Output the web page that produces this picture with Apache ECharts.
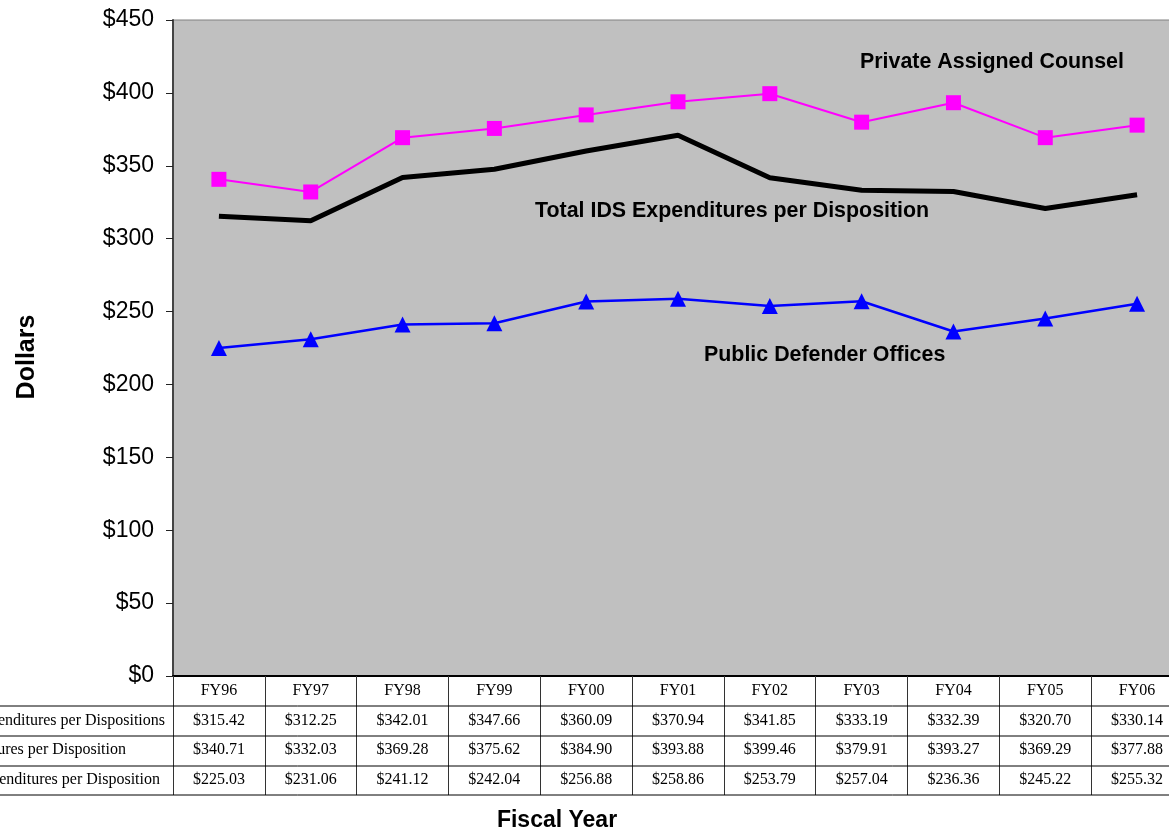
<!DOCTYPE html>
<html>
<head>
<meta charset="utf-8">
<script src="https://cdn.jsdelivr.net/npm/echarts@6/dist/echarts.min.js"></script>
<style>
  html, body { margin: 0; padding: 0; overflow: hidden; background: #fff; }
  #main { width: 1200px; height: 833px; }
</style>
</head>
<body>
<div id="main"></div>
<script>
// data
const years = ['FY96', 'FY97', 'FY98', 'FY99', 'FY00', 'FY01', 'FY02', 'FY03', 'FY04', 'FY05', 'FY06'];
const totalIDS = [315.42, 312.25, 342.01, 347.66, 360.09, 370.94, 341.85, 333.19, 332.39, 320.70, 330.14];
const privateCounsel = [340.71, 332.03, 369.28, 375.62, 384.90, 393.88, 399.46, 379.91, 393.27, 369.29, 377.88];
const publicDefender = [225.03, 231.06, 241.12, 242.04, 256.88, 258.86, 253.79, 257.04, 236.36, 245.22, 255.32];
const rowNames = [
    'Total IDS Expenditures per Dispositions',
    'Private Assigned Counsel Expenditures per Disposition',
    'Public Defender Office Expenditures per Disposition'
];

const money = v => '$' + v.toFixed(2);
const serif = '"Liberation Serif", "Times New Roman", serif';
const sans = '"Liberation Sans", Arial, sans-serif';

// one extra x axis per table row, labels come from the series arrays
function tableAxis(values, offset) {
    return {
        type: 'category',
        position: 'bottom',
        offset: offset,
        data: values.map(money),
        axisLine: { show: false },
        axisTick: { show: false },
        axisLabel: { interval: 0, margin: 7, color: '#000', fontFamily: serif, fontSize: 16 }
    };
}

const chart = echarts.init(document.getElementById('main'));

const rowLineY = [706, 736, 766, 795];
const rowLabelRight = [165, 126, 160];
const rowLabelY = [721, 750, 780];

const graphics = [];
rowLineY.forEach(y => {
    graphics.push({
        type: 'line', z: 5,
        shape: { x1: 0, y1: y, x2: 1190, y2: y },
        style: { stroke: '#000', lineWidth: 1 }
    });
});
rowNames.forEach((name, i) => {
    graphics.push({
        type: 'text', z: 5,
        x: rowLabelRight[i], y: rowLabelY[i],
        style: { text: name, fill: '#000', font: '16px ' + serif, align: 'right', verticalAlign: 'middle' }
    });
});
const notes = [
    { text: 'Private Assigned Counsel', x: 860, y: 62 },
    { text: 'Total IDS Expenditures per Disposition', x: 535, y: 211 },
    { text: 'Public Defender Offices', x: 704, y: 355 }
];
notes.forEach(n => {
    graphics.push({
        type: 'text', z: 10,
        x: n.x, y: n.y,
        style: { text: n.text, fill: '#000', font: 'bold 21.4px ' + sans, align: 'left', verticalAlign: 'middle' }
    });
});
graphics.push({
    type: 'text', z: 5, x: 27, y: 357, rotation: Math.PI / 2,
    style: { text: 'Dollars', fill: '#000', font: 'bold 25px ' + sans, align: 'center', verticalAlign: 'middle' }
});
graphics.push({
    type: 'text', z: 5, x: 557, y: 821,
    style: { text: 'Fiscal Year', fill: '#000', font: 'bold 23px ' + sans, align: 'center', verticalAlign: 'middle' }
});

const option = {
    animation: false,
    backgroundColor: '#fff',
    grid: {
        left: 173, top: 20, width: 1010, height: 656,
        show: true, backgroundColor: '#C0C0C0', borderColor: '#808080', borderWidth: 1
    },
    xAxis: [
        {
            type: 'category',
            position: 'bottom',
            data: years,
            boundaryGap: true,
            axisLine: { show: true, lineStyle: { color: '#000', width: 2 } },
            axisTick: { show: true, interval: 0, length: 119, lineStyle: { color: '#333', width: 1 } },
            axisLabel: { interval: 0, margin: 7, color: '#000', fontFamily: serif, fontSize: 16 },
            splitLine: { show: false }
        },
        tableAxis(totalIDS, 30),
        tableAxis(privateCounsel, 59),
        tableAxis(publicDefender, 89)
    ],
    yAxis: {
        type: 'value',
        min: 0, max: 450, interval: 50,
        axisLine: { show: true, lineStyle: { color: '#444', width: 2 } },
        axisTick: { show: true, length: 7, lineStyle: { color: '#222', width: 1 } },
        axisLabel: {
            margin: 19, color: '#000', fontFamily: sans, fontSize: 23,
            formatter: v => '$' + v
        },
        splitLine: { show: false }
    },
    series: [
        {
            name: 'Total IDS Expenditures per Disposition',
            type: 'line',
            data: totalIDS,
            showSymbol: false,
            symbol: 'none',
            lineStyle: { color: '#000', width: 5 },
            z: 3
        },
        {
            name: 'Private Assigned Counsel',
            type: 'line',
            data: privateCounsel,
            symbol: 'rect',
            symbolSize: 15,
            itemStyle: { color: '#FF00FF' },
            lineStyle: { color: '#FF00FF', width: 2 },
            z: 4
        },
        {
            name: 'Public Defender Offices',
            type: 'line',
            data: publicDefender,
            symbol: 'triangle',
            symbolSize: 16,
            itemStyle: { color: '#0000FF' },
            lineStyle: { color: '#0000FF', width: 2.5 },
            z: 4
        }
    ],
    graphic: graphics
};

chart.setOption(option);
</script>
</body>
</html>
